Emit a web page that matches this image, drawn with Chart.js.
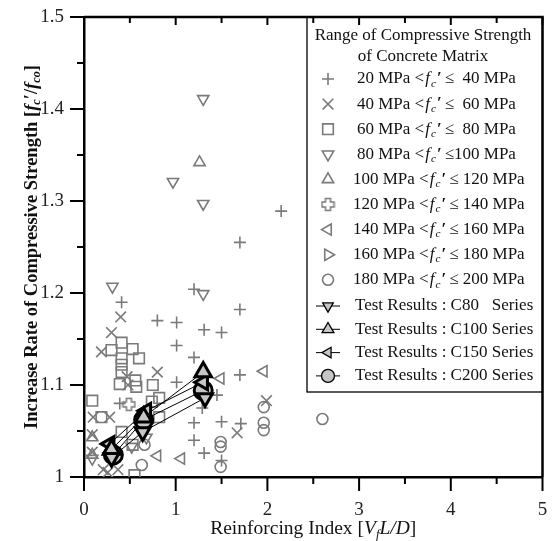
<!DOCTYPE html>
<html>
<head>
<meta charset="utf-8">
<script src="https://cdn.jsdelivr.net/npm/chart.js@4.4.1/dist/chart.umd.min.js"></script>
<style>
  html, body { margin: 0; padding: 0; background: #fff; }
</style>
</head>
<body>
<canvas id="chart" width="555" height="541"></canvas>
<script>
// ---- data: [reinforcing index, increase rate] ----
const fc20to40 = [
  [2.15, 1.289], [1.70, 1.255], [1.20, 1.204], [0.41, 1.190], [0.80, 1.170],
  [1.01, 1.168], [1.31, 1.160], [1.50, 1.157], [1.70, 1.182], [1.01, 1.143],
  [1.20, 1.130], [1.01, 1.103], [1.70, 1.111], [1.45, 1.089], [1.29, 1.075],
  [0.39, 1.080], [1.20, 1.059], [1.50, 1.060], [1.71, 1.058], [1.20, 1.040],
  [1.31, 1.026], [1.50, 1.018]
];
const fc40to60 = [
  [0.40, 1.174], [0.30, 1.157], [0.19, 1.136], [0.80, 1.114], [0.47, 1.109],
  [0.48, 1.100], [0.10, 1.065], [0.28, 1.065], [0.09, 1.046], [0.09, 1.027],
  [0.21, 1.008], [0.26, 1.005], [0.37, 1.008], [1.67, 1.048], [1.99, 1.083]
];
const fc60to80 = [
  [0.30, 1.138], [0.41, 1.146], [0.53, 1.139], [0.60, 1.129], [0.41, 1.129],
  [0.41, 1.122], [0.41, 1.114], [0.56, 1.105], [0.39, 1.101], [0.75, 1.100],
  [0.57, 1.098], [0.09, 1.083], [0.19, 1.065], [0.74, 1.082], [0.82, 1.086],
  [0.82, 1.065], [0.41, 1.049], [0.53, 1.035], [0.55, 1.002]
];
const fc80to100 = [
  [1.30, 1.411], [0.97, 1.321], [1.30, 1.297], [0.31, 1.207], [1.30, 1.199],
  [0.68, 1.043], [0.52, 1.033], [0.09, 1.020]
];
const fc100to120 = [[1.26, 1.342], [0.09, 1.043], [0.09, 1.024]];
const fc120to140 = [[0.49, 1.079]];
const fc140to160 = [[1.49, 1.107], [1.96, 1.115], [0.80, 1.023], [1.06, 1.020]];
const fc160to180 = [];
const fc180to200 = [
  [1.49, 1.038], [1.49, 1.033], [1.49, 1.011], [1.96, 1.076], [1.96, 1.059],
  [1.96, 1.051], [2.60, 1.063], [0.66, 1.035], [0.63, 1.013]
];

const testC80  = [[0.30, 1.021], [0.64, 1.049], [1.32, 1.086]];
const testC100 = [[0.30, 1.030], [0.65, 1.065], [1.30, 1.114]];
const testC150 = [[0.28, 1.036], [0.68, 1.072], [1.30, 1.103]];
const testC200 = [[0.32, 1.024], [0.65, 1.062], [1.30, 1.094]];

const rangeLow  = ['20', '40', '60', '80', '100', '120', '140', '160', '180'];
const rangeHigh = ['  40', '  60', '  80', '100', ' 120', ' 140', ' 160', ' 180', ' 200'];
const testNames = ['C80   Series', 'C100 Series', 'C150 Series', 'C200 Series'];

const xMajorTicks = [0, 1, 2, 3, 4, 5];
const yMajorTicks = [1, 1.1, 1.2, 1.3, 1.4, 1.5];

const GRAY = '#7a7a7a';
const FILL = '#c6c6c6';
const SERIF = '"Liberation Serif", "Times New Roman", serif';

// outlined "plus" marker for 120-140 MPa
const boldCross = (() => {
  const cv = document.createElement('canvas');
  cv.width = 15; cv.height = 15;
  const g = cv.getContext('2d');
  const c = 7.5, a = 2.5, b = 6;
  g.strokeStyle = GRAY;
  g.lineWidth = 1.5;
  g.beginPath();
  [[c - a, c - b], [c + a, c - b], [c + a, c - a], [c + b, c - a], [c + b, c + a], [c + a, c + a],
   [c + a, c + b], [c - a, c + b], [c - a, c + a], [c - b, c + a], [c - b, c - a], [c - a, c - a]]
    .forEach(([px, py], i) => i ? g.lineTo(px, py) : g.moveTo(px, py));
  g.closePath();
  g.stroke();
  return cv;
})();

// marker styles for each range (same order as rangeLow)
const rangeStyles = [
  { pointStyle: 'cross', rotation: 0, radius: 6 },
  { pointStyle: 'crossRot', rotation: 0, radius: 7.5 },
  { pointStyle: 'rect', rotation: 0, radius: 7.5 },
  { pointStyle: 'triangle', rotation: 180, radius: 6.5 },
  { pointStyle: 'triangle', rotation: 0, radius: 6.5 },
  { pointStyle: boldCross, rotation: 0, radius: 7 },
  { pointStyle: 'triangle', rotation: 270, radius: 6.5 },
  { pointStyle: 'triangle', rotation: 90, radius: 6.5 },
  { pointStyle: 'circle', rotation: 0, radius: 5.5 }
];
const rangeData = [fc20to40, fc40to60, fc60to80, fc80to100, fc100to120,
                   fc120to140, fc140to160, fc160to180, fc180to200];

const testStyles = [
  { pointStyle: 'triangle', rotation: 180, radius: 8.5 },
  { pointStyle: 'triangle', rotation: 0, radius: 9.5 },
  { pointStyle: 'triangle', rotation: 270, radius: 8.5 },
  { pointStyle: 'circle', rotation: 0, radius: 9 }
];
const testData = [testC80, testC100, testC150, testC200];

const toXY = arr => arr.map(([x, y]) => ({ x, y }));

const datasets = [];
testData.forEach((d, i) => {
  datasets.push({
    data: toXY(d),
    showLine: true,
    borderColor: '#000',
    borderWidth: 1,
    pointStyle: testStyles[i].pointStyle,
    rotation: testStyles[i].rotation,
    pointRadius: testStyles[i].radius,
    pointBorderWidth: 3,
    pointBorderColor: '#000',
    pointBackgroundColor: FILL,
    order: 0
  });
});
rangeData.forEach((d, i) => {
  datasets.push({
    data: toXY(d),
    showLine: false,
    pointStyle: rangeStyles[i].pointStyle,
    rotation: rangeStyles[i].rotation,
    pointRadius: rangeStyles[i].radius,
    pointBorderWidth: 1.6,
    pointBorderColor: GRAY,
    pointBackgroundColor: 'rgba(0,0,0,0)',
    order: 1
  });
});

// draw a run of text pieces: {t, it, sub, b, gap}
function setFont(ctx, p, size) {
  ctx.font = (p.it ? 'italic ' : '') + (p.b ? 'bold ' : '') + (p.sub ? size * 0.66 : size) + 'px ' + SERIF;
}
function richWidth(ctx, parts, size) {
  let w = 0;
  parts.forEach(p => { setFont(ctx, p, size); w += ctx.measureText(p.t).width + (p.gap || 0); });
  return w;
}
function drawRich(ctx, parts, x, y, size) {
  let cx = x;
  parts.forEach(p => {
    setFont(ctx, p, size);
    ctx.fillText(p.t, cx, p.sub ? y + size * 0.28 : y);
    cx += ctx.measureText(p.t).width + (p.gap || 0);
  });
  return cx;
}

const framePlugin = {
  id: 'frame',
  afterDraw(chart) {
    const { ctx, chartArea: a, scales } = chart;
    const xs = scales.x, ys = scales.y;
    ctx.save();

    // legend box
    const lx = 307, ly = a.top, lr = a.right, lb = 392;
    ctx.fillStyle = '#fff';
    ctx.fillRect(lx, ly, lr - lx, lb - ly);
    ctx.strokeStyle = '#000';
    ctx.lineWidth = 1.3;
    ctx.strokeRect(lx, ly, lr - lx, lb - ly);

    const LF = 17;
    ctx.fillStyle = '#111';
    ctx.textBaseline = 'middle';
    ctx.textAlign = 'center';
    ctx.font = LF + 'px ' + SERIF;
    ctx.fillText('Range of Compressive Strength', 423, 36);
    ctx.fillText('of Concrete Matrix', 423, 57);
    ctx.textAlign = 'left';

    const symX = 328, txtX = 355;
    rangeLow.forEach((lo, i) => {
      const y = 79 + i * 25.1;
      ctx.strokeStyle = GRAY;
      ctx.fillStyle = 'rgba(0,0,0,0)';
      ctx.lineWidth = 1.6;
      Chart.helpers.drawPoint(ctx, { ...rangeStyles[i], borderWidth: 1.6 }, symX, y);
      ctx.fillStyle = '#111';
      drawRich(ctx, [
        { t: lo + ' MPa ' },
        { t: '<', gap: 1 }, { t: 'f', it: true, gap: 1 }, { t: 'c', it: true, sub: true, gap: 1 },
        { t: '′', b: true, gap: 3 },
        { t: '≤' }, { t: rangeHigh[i] + ' MPa' }
      ], i < 4 ? txtX + 2 : txtX - 2, y, LF);
    });

    testNames.forEach((name, i) => {
      const y = 306 + i * 23.3;
      ctx.strokeStyle = '#000';
      ctx.lineWidth = 1;
      ctx.beginPath();
      ctx.moveTo(symX - 12, y);
      ctx.lineTo(symX + 12, y);
      ctx.stroke();
      ctx.fillStyle = FILL;
      ctx.lineWidth = 1.3;
      const st = testStyles[i];
      Chart.helpers.drawPoint(ctx, { ...st, radius: st.radius * 0.72, borderWidth: 1.3 }, symX, y);
      ctx.fillStyle = '#111';
      drawRich(ctx, [{ t: 'Test Results : ' + name }], txtX, y, LF);
    });

    // top and right frame
    ctx.strokeStyle = '#000';
    ctx.lineWidth = 2.5;
    ctx.beginPath();
    ctx.moveTo(a.left, a.top);
    ctx.lineTo(a.right, a.top);
    ctx.lineTo(a.right, a.bottom);
    ctx.stroke();

    // ticks: outward on left/bottom, inward on top
    ctx.lineWidth = 2;
    for (let i = 0; i <= 10; i++) {
      const px = xs.getPixelForValue(i * 0.5);
      ctx.beginPath();
      ctx.moveTo(px, a.bottom);
      ctx.lineTo(px, a.bottom + (i % 2 === 0 ? 14 : 7));
      ctx.moveTo(px, a.top);
      ctx.lineTo(px, a.top + (i % 2 === 0 ? 8 : 6));
      ctx.stroke();
    }
    for (let i = 0; i <= 10; i++) {
      const py = ys.getPixelForValue(1 + i * 0.05);
      ctx.beginPath();
      ctx.moveTo(a.left, py);
      ctx.lineTo(a.left - (i % 2 === 0 ? 14 : 7), py);
      ctx.stroke();
    }

    // tick labels
    const TF = 19;
    ctx.fillStyle = '#222';
    ctx.font = TF + 'px ' + SERIF;
    ctx.textBaseline = 'middle';
    ctx.textAlign = 'right';
    yMajorTicks.forEach(v => ctx.fillText(String(v), a.left - 20, ys.getPixelForValue(v)));
    ctx.textAlign = 'center';
    xMajorTicks.forEach(v => ctx.fillText(String(v), xs.getPixelForValue(v), 510));

    // axis titles
    ctx.fillStyle = '#111';
    ctx.textAlign = 'left';
    const xt = [{ t: 'Reinforcing Index [' }, { t: 'V', it: true }, { t: 'f', it: true, sub: true },
                { t: 'L/D', it: true }, { t: ']' }];
    drawRich(ctx, xt, (a.left + a.right) / 2 - richWidth(ctx, xt, 19.5) / 2, 529, 19.5);

    const yt = [{ t: 'Increase Rate of Compressive Strength [', b: true }, { t: 'f', it: true, b: true },
                { t: 'c', it: true, b: true, sub: true }, { t: '′/', b: true }, { t: 'f', it: true, b: true },
                { t: 'co', it: true, b: true, sub: true }, { t: ']', b: true }];
    ctx.translate(32, (a.top + a.bottom) / 2);
    ctx.rotate(-Math.PI / 2);
    drawRich(ctx, yt, -richWidth(ctx, yt, 18.5) / 2, 0, 18.5);
    ctx.restore();
  }
};

new Chart(document.getElementById('chart'), {
  type: 'scatter',
  data: { datasets },
  options: {
    responsive: false,
    animation: false,
    devicePixelRatio: 1,
    layout: { padding: { top: 17, right: 9, left: 0, bottom: 0 } },
    plugins: { legend: { display: false }, tooltip: { enabled: false } },
    scales: {
      x: {
        type: 'linear', min: 0, max: 5,
        afterFit: s => { s.height = 64; },
        afterBuildTicks: s => { s.ticks = xMajorTicks.map(v => ({ value: v })); },
        grid: { display: true, drawOnChartArea: false, drawTicks: false },
        border: { color: '#000', width: 2.5 },
        ticks: { display: false }
      },
      y: {
        type: 'linear', min: 1, max: 1.5,
        afterFit: s => { s.width = 84; },
        afterBuildTicks: s => { s.ticks = yMajorTicks.map(v => ({ value: v })); },
        grid: { display: true, drawOnChartArea: false, drawTicks: false },
        border: { color: '#000', width: 2.5 },
        ticks: { display: false }
      }
    }
  },
  plugins: [framePlugin]
});
</script>
</body>
</html>
